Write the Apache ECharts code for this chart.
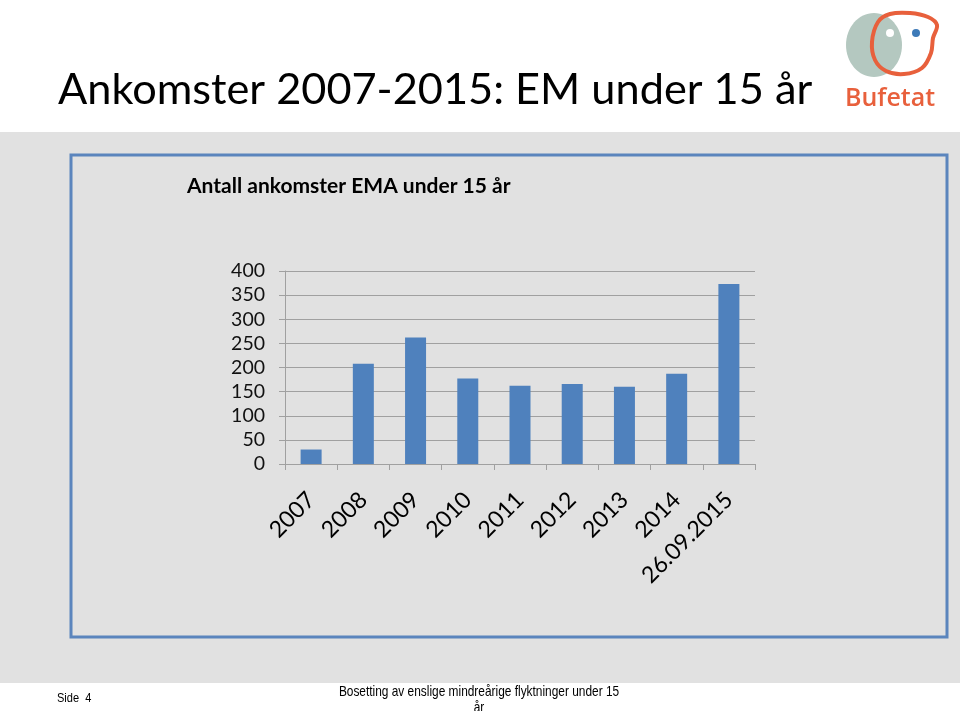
<!DOCTYPE html>
<html><head><meta charset="utf-8">
<script src="https://cdn.jsdelivr.net/npm/echarts@6/dist/echarts.min.js"></script>
<style>html,body{margin:0;padding:0;background:#fff}#c{width:960px;height:711px}</style>
</head><body><div id="c"></div>
<script>
var categories = ['2007','2008','2009','2010','2011','2012','2013','2014','26.09.2015'];
var arrivals = [30, 208, 262, 177, 162, 166, 160, 187, 373];
var yTicks = [0, 50, 100, 150, 200, 250, 300, 350, 400];
var slideTitle = 'Ankomster 2007-2015: EM under 15 år';
var chartTitle = 'Antall ankomster EMA under 15 år';
var footerLeft = 'Side  4';
var footerCenter = 'Bosetting av enslige mindreårige flyktninger under 15\når';

var chart = echarts.init(document.getElementById('c'));
chart.setOption({
  animation: false,
  backgroundColor: '#ffffff',
  graphic: [
    {type:'rect', z:-10, shape:{x:0,y:132,width:960,height:551}, style:{fill:'#e1e1e1'}},
    {type:'rect', z:-9, shape:{x:71,y:155,width:876,height:482}, style:{fill:'#e1e1e1', stroke:'#5b85bd', lineWidth:3}},
    {type:'text', x:58, y:69, style:{text:slideTitle, font:'43.3px Lato', fill:'#000'}},
    {type:'text', x:187, y:176, style:{text:chartTitle, font:'bold 21px Lato', fill:'#000'}},
    {type:'text', x:57, y:692, scaleX:0.85, style:{text:footerLeft, font:'13px "Liberation Sans"', fill:'#000'}},
    {type:'text', x:479, y:684, scaleX:0.82, style:{text:footerCenter, font:'14.5px "Liberation Sans"', fill:'#000', align:'center', lineHeight:16}},
    {type:'ellipse', shape:{cx:874,cy:45,rx:28,ry:32}, style:{fill:'#b4c8c0'}},
    {type:'polygon', shape:{smooth:0.35, points:[[872,42],[878,22],[890,14],[910,13],[928,17],[937,25],[933,38],[931,53],[922,68],[904,74],[886,71],[875,60]]}, style:{fill:'none', stroke:'#e8603c', lineWidth:4}},
    {type:'circle', shape:{cx:890,cy:33,r:4}, style:{fill:'#ffffff'}},
    {type:'circle', shape:{cx:916,cy:33,r:4}, style:{fill:'#3d7ab8'}},
    {type:'text', x:845, y:86, style:{text:'Bufetat', font:'600 25px "Open Sans"', fill:'#e8603c'}}
  ],
  grid: {left:285, right:205, top:271, bottom:247},
  xAxis: {
    type:'category', data:categories, boundaryGap:true,
    axisLine:{lineStyle:{color:'#a0a0a0', width:1}},
    axisTick:{show:true, length:6, lineStyle:{color:'#a0a0a0'}},
    axisLabel:{rotate:45, fontFamily:'Lato', fontSize:23, color:'#000', margin:32, interval:0}
  },
  yAxis: {
    type:'value', min:0, max:400, interval:50,
    axisLine:{show:true, lineStyle:{color:'#a0a0a0'}},
    axisTick:{show:true, length:6, lineStyle:{color:'#a0a0a0'}},
    splitLine:{lineStyle:{color:'#a0a0a0', width:1}},
    axisLabel:{fontFamily:'Lato', fontSize:19.5, color:'#111', margin:20,
      formatter:function(v){return yTicks.indexOf(v)>=0?String(v):'';}}
  },
  series: [{type:'bar', data:arrivals, barWidth:21, itemStyle:{color:'#4f81bd'}}]
});
</script></body></html>
